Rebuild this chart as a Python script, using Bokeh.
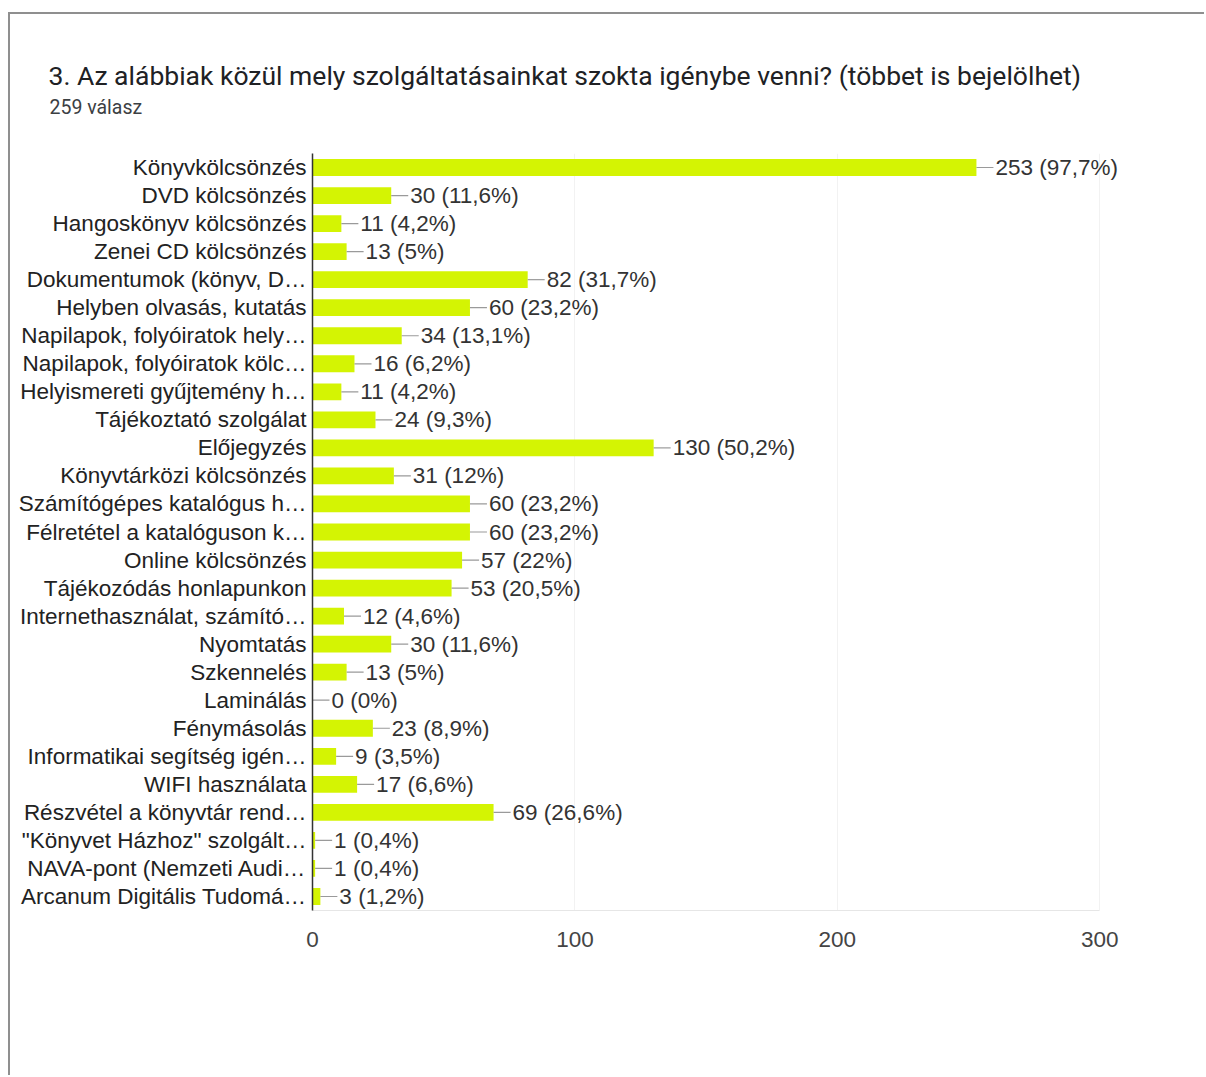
from bokeh.plotting import figure
from bokeh.models import ColumnDataSource, FactorRange, FixedTicker, Label
from bokeh.core.properties import value
from bokeh.embed import file_html
from bokeh.resources import INLINE

title_text = "3. Az alábbiak közül mely szolgáltatásainkat szokta igénybe venni? (többet is bejelölhet)"
subtitle_text = "259 válasz"

categories = [
    "Könyvkölcsönzés",
    "DVD kölcsönzés",
    "Hangoskönyv kölcsönzés",
    "Zenei CD kölcsönzés",
    "Dokumentumok (könyv, D…",
    "Helyben olvasás, kutatás",
    "Napilapok, folyóiratok hely…",
    "Napilapok, folyóiratok kölc…",
    "Helyismereti gyűjtemény h…",
    "Tájékoztató szolgálat",
    "Előjegyzés",
    "Könyvtárközi kölcsönzés",
    "Számítógépes katalógus h…",
    "Félretétel a katalóguson k…",
    "Online kölcsönzés",
    "Tájékozódás honlapunkon",
    "Internethasználat, számító…",
    "Nyomtatás",
    "Szkennelés",
    "Laminálás",
    "Fénymásolás",
    "Informatikai segítség igén…",
    "WIFI használata",
    "Részvétel a könyvtár rend…",
    "\"Könyvet Házhoz\" szolgált…",
    "NAVA-pont (Nemzeti Audi…",
    "Arcanum Digitális Tudomá…",
]
counts = [253, 30, 11, 13, 82, 60, 34, 16, 11, 24, 130, 31, 60, 60, 57, 53, 12, 30, 13, 0, 23, 9, 17, 69, 1, 1, 3]
percents = ["97,7%", "11,6%", "4,2%", "5%", "31,7%", "23,2%", "13,1%", "6,2%", "4,2%", "9,3%",
            "50,2%", "12%", "23,2%", "23,2%", "22%", "20,5%", "4,6%", "11,6%", "5%", "0%",
            "8,9%", "3,5%", "6,6%", "26,6%", "0,4%", "0,4%", "1,2%"]
x_ticks = [0, 100, 200, 300]

labels = [f"{c} ({p})" for c, p in zip(counts, percents)]
src = ColumnDataSource(dict(cat=categories, count=counts, label=labels))

W, H = 1196, 1063
p = figure(
    width=W, height=H,
    y_range=FactorRange(factors=list(reversed(categories)), range_padding=0),
    x_range=(0, 330),
    output_backend="svg", toolbar_location=None,
    min_border_left=302, min_border_right=28, min_border_top=139, min_border_bottom=167,
)
p.styles = {"margin-left": "8px", "margin-top": "12px",
            "border-left": "2px solid #8f8f8f", "border-top": "2px solid #8f8f8f"}
p.outline_line_color = None
p.background_fill_color = "white"
p.border_fill_color = "white"

p.hbar(y="cat", right="count", left=0, height=0.6, source=src,
       fill_color="#d4f403", line_color=None)
p.ray(x="count", y="cat", length=17, length_units="screen", angle=0, source=src,
      line_color="#9a9a9a", line_width=1.2)
p.text(x="count", y="cat", text="label", source=src, x_offset=19,
       text_baseline="middle", text_align="left", text_color="#333333",
       text_font=value("Liberation Sans"), text_font_size="22.5px")

# axes
p.xaxis.ticker = FixedTicker(ticks=x_ticks)
p.xaxis.bounds = (0, 300)
p.xaxis.major_tick_line_color = None
p.xaxis.minor_tick_line_color = None
p.xaxis.axis_line_color = "#e6e6e6"
p.xaxis.major_label_text_font = "Liberation Sans"
p.xaxis.major_label_text_font_size = "22.5px"
p.xaxis.major_label_text_color = "#444444"
p.xaxis.major_label_standoff = 15

p.yaxis.major_tick_line_color = None
p.yaxis.minor_tick_line_color = None
p.yaxis.axis_line_color = "#333333"
p.yaxis.axis_line_width = 1.5
p.yaxis.major_label_text_font = "Liberation Sans"
p.yaxis.major_label_text_font_size = "22.5px"
p.yaxis.major_label_text_color = "#222222"
p.yaxis.major_label_standoff = 0

p.xgrid.grid_line_color = "#f2f2f2"
p.ygrid.grid_line_color = None

# titles (placed in a side panel so they are not clipped to the frame)
p.add_layout(Label(x=36, y=59, x_units="canvas", y_units="canvas", text=title_text,
                   text_font="Roboto", text_font_size="26.5px", text_color="#202124",
                   text_baseline="alphabetic"), "above")
p.add_layout(Label(x=37, y=91, x_units="canvas", y_units="canvas", text=subtitle_text,
                   text_font="Roboto", text_font_size="19.5px", text_color="#3c4043",
                   text_baseline="alphabetic"), "above")

open("out.html", "w").write(file_html(p, INLINE))
